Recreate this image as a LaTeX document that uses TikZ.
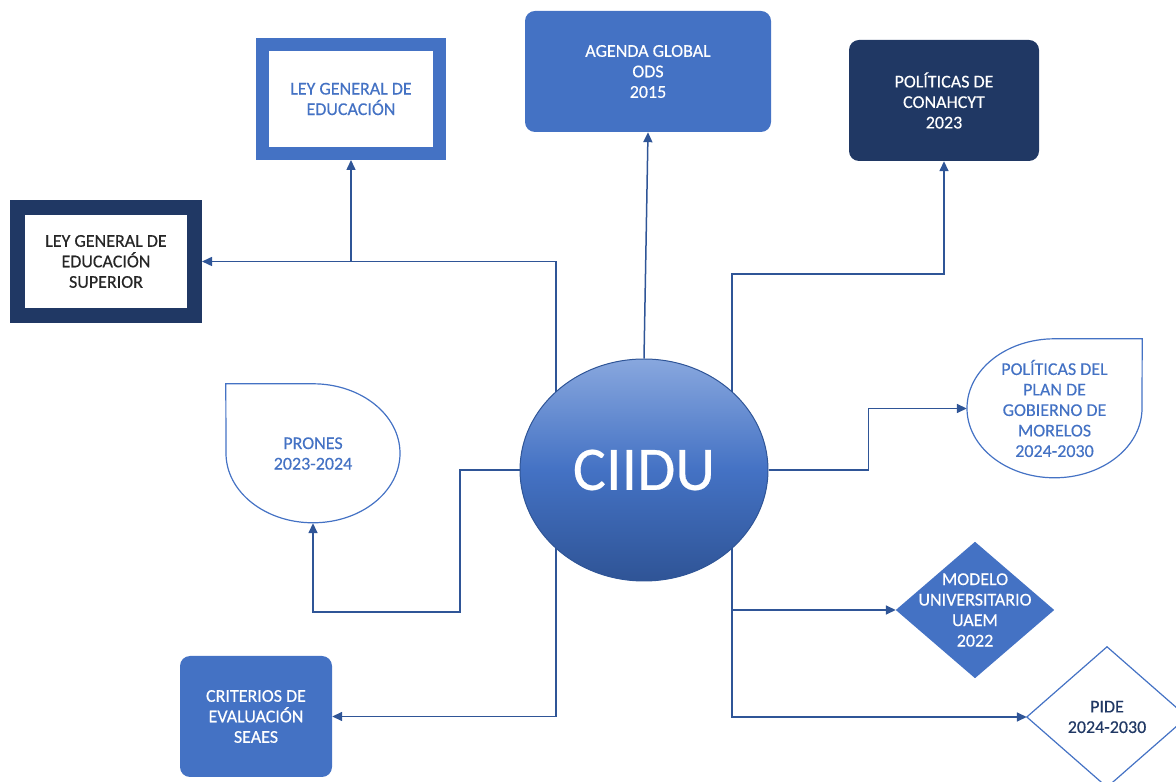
\documentclass[tikz,border=0pt]{standalone}
\usepackage{fontspec}
\setmainfont{Carlito}[UprightFeatures={FakeBold=0.35}]
\usetikzlibrary{arrows.meta,shapes.geometric,backgrounds,calc}

\definecolor{ciiblue}{HTML}{4472C4}
\definecolor{ciinavy}{HTML}{203864}
\definecolor{linkblue}{HTML}{2F5597}
\definecolor{shadetop}{HTML}{88A7DE}
\definecolor{shadebot}{HTML}{2F5496}
\definecolor{textgrey}{HTML}{262626}

\tikzset{
	txt/.style={font=\fontsize{18}{20.5}\selectfont, align=center, inner sep=0pt},
	hub/.style={ellipse, draw=linkblue, line width=1pt, top color=shadetop,
		bottom color=shadebot, middle color=ciiblue, minimum width=248pt,
		minimum height=222pt, inner sep=0pt, text=white,
		font=\fontsize{62}{62}\selectfont},
	framebox/.style={txt, rectangle, fill=white},
	roundbox/.style={txt, rectangle, rounded corners=10pt, text=white},
	drop/.style={draw=ciiblue, line width=1.2pt},
	link/.style={draw=linkblue, line width=1.5pt, -{Triangle[length=10pt,width=9pt]}},
}

\begin{document}
\begin{tikzpicture}[x=1pt, y=1pt]

% parameters %{{{2

	\def\trunk{88}

% canvas %{{{2

	\useasboundingbox (0,0) rectangle (1176,782);
	\clip (0,0) rectangle (1176,782);

% centre %{{{2

	\node[hub] (ciidu) at (644,312) {CIIDU};

% boxes %{{{2

	\node[framebox, draw=ciiblue, line width=13pt, text=ciiblue,
		minimum width=177pt, minimum height=109pt] (lge) at (351,683)
		{LEY GENERAL DE\\EDUCACIÓN};
	\node[framebox, draw=ciinavy, line width=15pt, text=textgrey,
		minimum width=177pt, minimum height=108pt] (lges) at (106,520.5)
		{LEY GENERAL DE\\EDUCACIÓN\\SUPERIOR};
	\node[roundbox, fill=ciiblue, minimum width=246pt, minimum height=121pt]
		(agenda) at (648,710.5) {AGENDA GLOBAL\\ODS\\2015};
	\node[roundbox, fill=ciinavy, minimum width=190pt, minimum height=121pt]
		(conahcyt) at (944,681.5) {POLÍTICAS DE\\CONAHCYT\\2023};
	\node[roundbox, fill=ciiblue, minimum width=152pt, minimum height=121pt]
		(criterios) at (256,65.5) {CRITERIOS DE\\EVALUACIÓN\\SEAES};

% drops %{{{2

	\node[txt, text=ciiblue, minimum width=174pt, minimum height=139pt]
		(prones) at (313,328.5) {PRONES\\2023-2024};
	\node[txt, text=ciiblue, minimum width=175pt, minimum height=139pt]
		(plan) at (1054.5,373.5) {POLÍTICAS DEL\\PLAN DE\\GOBIERNO DE\\MORELOS\\2024-2030};

	\draw[drop] (prones.north west) -- (prones.north)
		arc[start angle=90, end angle=-180, x radius=87, y radius=69.5] -- cycle;
	\draw[drop] (plan.north east) -- (plan.north)
		arc[start angle=90, end angle=360, x radius=87.5, y radius=69.5] -- cycle;

% diamonds %{{{2

	\node[txt, text=white, minimum width=158pt, minimum height=136pt]
		(modelo) at (975,172) {MODELO\\UNIVERSITARIO\\UAEM\\2022};
	\node[txt, text=ciinavy, minimum width=160pt, minimum height=140pt]
		(pide) at (1107,65) {PIDE\\2024-2030};

	\draw[drop] (pide.west) -- (pide.north) -- (pide.east) -- (pide.south) -- cycle;

% connectors %{{{2

	\begin{pgfonlayer}{background}
		\fill[ciiblue] (modelo.west) -- (modelo.north) -- (modelo.east) -- (modelo.south) -- cycle;

		\coordinate (ltrunk) at ($(ciidu.center)+(-\trunk,0)$);
		\coordinate (rtrunk) at ($(ciidu.center)+(\trunk,0)$);

		\draw[link] (ltrunk) |- (lges.east);
		\draw[link] (lge.south |- lges.east) -- (lge.south);
		\draw[link] (ltrunk) |- (criterios.east);
		\draw[link] (ciidu.north) -- (agenda.south);
		\draw[link] (rtrunk) |- ($(conahcyt.south)+(0,-113)$) -- (conahcyt.south);
		\draw[link] (rtrunk) |- (pide.west);
		\draw[link] (rtrunk |- modelo.west) -- (modelo.west);
		\draw[link] (ciidu.east) -- ++(100,0) |- (plan.west);
		\draw[link] (ciidu.west) -| (460,170) -| (prones.south);
	\end{pgfonlayer}

% closing %{{{2

\end{tikzpicture}
\end{document}
